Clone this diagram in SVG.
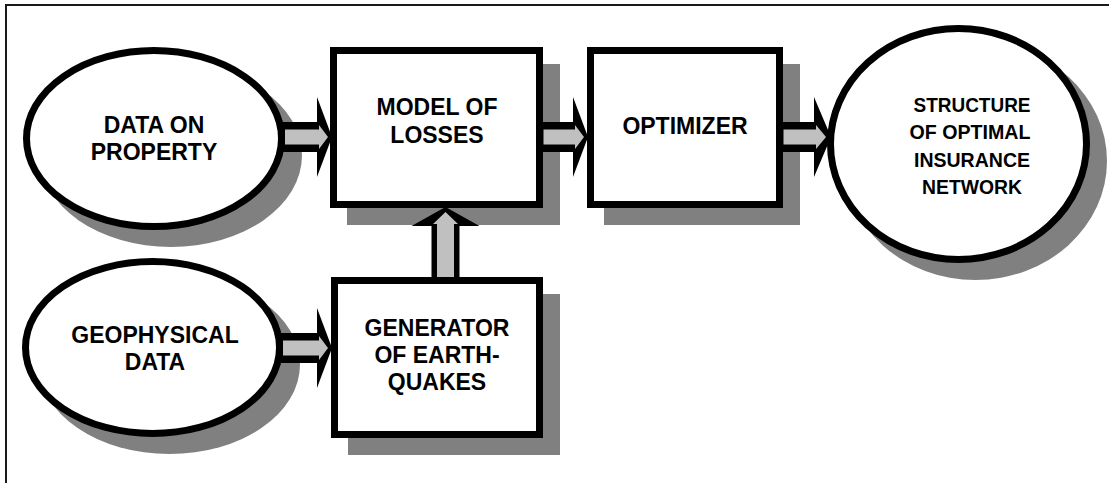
<svg xmlns="http://www.w3.org/2000/svg" width="1109" height="483" viewBox="0 0 1109 483">
<style>
.bg{fill:#ffffff}
.frame{fill:none;stroke:#1a1a1a;stroke-width:2}
.shadow{fill:#808080}
.node{fill:#ffffff;stroke:#000000;stroke-width:7}
.ab{fill:#000000}
.ag{fill:#c0c0c0}
.t{font-family:"Liberation Sans",Arial,sans-serif;font-weight:bold;font-size:23px;fill:#000000;text-anchor:middle}
.ts{font-size:20.5px}
</style>
<rect class="bg" x="0" y="0" width="1109" height="483"/>
<rect class="frame" x="6" y="5" width="1112" height="490"/>

<g id="data-on-property">
  <ellipse class="shadow" cx="171" cy="155.5" rx="131" ry="91.5"/>
  <ellipse class="node" cx="154" cy="138.5" rx="127.5" ry="88"/>
  <text class="t" x="154" y="133">DATA ON</text>
  <text class="t" x="154" y="160">PROPERTY</text>
</g>

<g id="geophysical-data">
  <ellipse class="shadow" cx="169.5" cy="364.5" rx="130.5" ry="89.5"/>
  <ellipse class="node" cx="152.5" cy="347.5" rx="127" ry="86"/>
  <text class="t" x="155" y="343">GEOPHYSICAL</text>
  <text class="t" x="155" y="370">DATA</text>
</g>

<g id="model-of-losses">
  <rect class="shadow" x="347" y="64" width="213" height="161"/>
  <rect class="node" x="333.5" y="50.5" width="206" height="154"/>
  <text class="t" x="437" y="115">MODEL OF</text>
  <text class="t" x="437" y="143">LOSSES</text>
</g>

<g id="generator">
  <rect class="shadow" x="348" y="294" width="212" height="161"/>
  <rect class="node" x="334.5" y="280.5" width="205" height="154"/>
  <text class="t" x="437" y="336">GENERATOR</text>
  <text class="t" x="437" y="363">OF EARTH-</text>
  <text class="t" x="437" y="390">QUAKES</text>
</g>

<g id="optimizer">
  <rect class="shadow" x="604" y="64" width="196" height="161"/>
  <rect class="node" x="590.5" y="50.5" width="189" height="154"/>
  <text class="t" x="685" y="133.5">OPTIMIZER</text>
</g>

<g id="structure">
  <ellipse class="shadow" cx="975.5" cy="161" rx="131.5" ry="119"/>
  <ellipse class="node" cx="958.5" cy="144" rx="128" ry="115.5"/>
  <text class="t ts" x="972" y="112" textLength="117" lengthAdjust="spacingAndGlyphs">STRUCTURE</text>
  <text class="t ts" x="970" y="139" textLength="121" lengthAdjust="spacingAndGlyphs">OF OPTIMAL</text>
  <text class="t ts" x="972" y="166.5" textLength="116" lengthAdjust="spacingAndGlyphs">INSURANCE</text>
  <text class="t ts" x="972" y="193.5" textLength="100" lengthAdjust="spacingAndGlyphs">NETWORK</text>
</g>

<g id="connectors">
  <g id="a-property-model">
    <polygon class="ab" points="283,122 317,122 317,97 332,137 317,177 317,152 283,152"/>
    <polygon class="ag" points="285,129.5 319,129.5 319,125 328,137 319,149 319,144.5 285,144.5"/>
  </g>
  <g id="a-model-optimizer">
    <polygon class="ab" points="540,122 573,122 573,97 588,137 573,177 573,152 540,152"/>
    <polygon class="ag" points="543.5,129.5 575,129.5 575,125 584,137 575,149 575,144.5 543.5,144.5"/>
  </g>
  <g id="a-optimizer-structure">
    <polygon class="ab" points="780,122 814,122 814,97 831,137 814,177 814,152 780,152"/>
    <polygon class="ag" points="783.5,129.5 816,129.5 816,125 826,137 816,149 816,144.5 783.5,144.5"/>
  </g>
  <g id="a-geo-generator">
    <polygon class="ab" points="281,333 317,333 317,308 332,348 317,388 317,363 281,363"/>
    <polygon class="ag" points="283,340.5 319,340.5 319,336 328,348 319,360 319,355.5 283,355.5"/>
  </g>
  <g id="a-generator-model">
    <polygon class="ab" points="431.5,280 431.5,226 411.5,226 445.5,207 479.5,226 459.5,226 459.5,280"/>
    <polygon class="ag" points="437,277 437,224 433,224 445.5,212 458,224 454,224 454,277"/>
  </g>
</g>
</svg>
